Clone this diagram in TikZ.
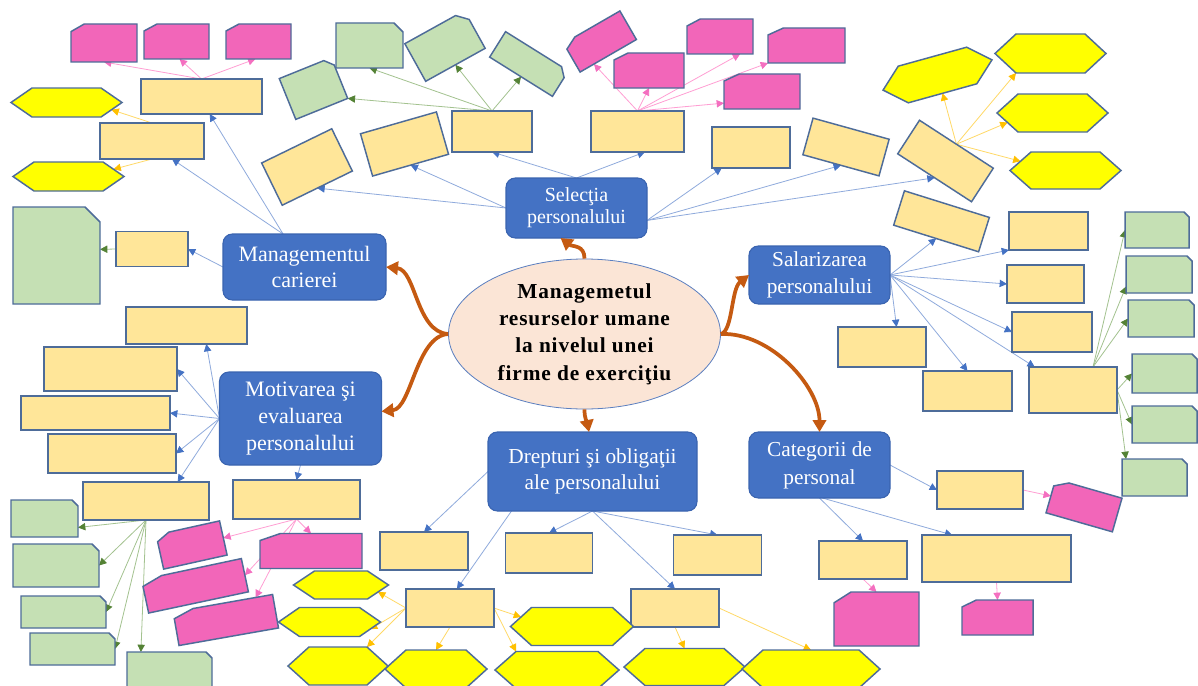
\documentclass[tikz,border=0pt]{standalone}
\usepackage{fontspec}
\setmainfont{Liberation Serif}
\usetikzlibrary{arrows.meta,backgrounds,shapes.geometric}
\definecolor{tanc}{HTML}{FFE699}
\definecolor{bord}{HTML}{4E6C99}
\definecolor{pinkc}{HTML}{F266B9}
\definecolor{greenc}{HTML}{C5E0B4}
\definecolor{hexc}{HTML}{FFFF00}
\definecolor{boxc}{HTML}{4472C4}
\definecolor{boxb}{HTML}{3A64B0}
\definecolor{ellc}{HTML}{FBE5D6}
\definecolor{ellb}{HTML}{5B7FC0}
\definecolor{orc}{HTML}{C55A11}
\definecolor{bl}{HTML}{8FAADC}
\definecolor{blh}{HTML}{4472C4}
\definecolor{pl}{HTML}{FF9ED3}
\definecolor{plh}{HTML}{F46FC0}
\definecolor{gl}{HTML}{A3C28F}
\definecolor{glh}{HTML}{548235}
\definecolor{yl}{HTML}{FFD966}
\definecolor{ylh}{HTML}{FFC000}
\tikzset{
 shp/.style={draw=bord, line width=1.1pt, line join=miter},
 tanst/.style={shp, fill=tanc, inner sep=0pt, outer sep=0pt},
 anc/.style={inner sep=0pt, outer sep=0pt},
 pinkst/.style={shp, fill=pinkc},
 greenst/.style={shp, fill=greenc},
 hexst/.style={shp, fill=hexc},
 bluebox/.style={fill=boxc, draw=boxb, line width=0.8pt, rounded corners=7pt, text=white, align=center, inner sep=0pt, outer sep=0pt},
 cb/.style={draw=bl, line width=0.6pt, -{Triangle[length=5.5pt,width=5.5pt,color=blh]}},
 cp/.style={draw=pl, line width=0.6pt, -{Triangle[length=5.5pt,width=5.5pt,color=plh]}},
 cg/.style={draw=gl, line width=0.6pt, -{Triangle[length=5.5pt,width=5.5pt,color=glh]}},
 cy/.style={draw=yl, line width=0.6pt, -{Triangle[length=5.5pt,width=5.5pt,color=ylh]}},
 orar/.style={draw=orc, line width=2.8pt, -{Triangle[length=9pt,width=10pt,color=orc]}}
}
\newcommand\tanb[6]{\node[tanst, minimum width=#4*0.75pt, minimum height=#5*0.75pt, rotate=#6] (#1) at (#2,#3) {};}
\newcommand\pinkb[6]{%
 \begin{scope}[shift={(#2,#3)},rotate=#6]
 \draw[pinkst] ({-0.3*#4},{-#5/2}) -- ({#4/2},{-#5/2}) -- ({#4/2},{#5/2}) -- ({-#4/2},{#5/2}) -- ({-#4/2},{-0.3*#5}) -- cycle;
 \end{scope}
 \node[anc, minimum width=#4*0.75pt, minimum height=#5*0.75pt, rotate=#6] (#1) at (#2,#3) {};}
\newcommand\greenb[7]{%
 \begin{scope}[shift={(#2,#3)},rotate=#6]
 \draw[greenst] ({-#4/2},{-#5/2}) -- ({#4/2-#7},{-#5/2}) -- ({#4/2},{-#5/2+#7}) -- ({#4/2},{#5/2}) -- ({-#4/2},{#5/2}) -- cycle;
 \end{scope}
 \node[anc, minimum width=#4*0.75pt, minimum height=#5*0.75pt, rotate=#6] (#1) at (#2,#3) {};}
\newcommand\hexb[6]{%
 \begin{scope}[shift={(#2,#3)},rotate=#6]
 \draw[hexst] ({-#4/2},0) -- ({-#4/2+21},{-#5/2}) -- ({#4/2-21},{-#5/2}) -- ({#4/2},0) -- ({#4/2-21},{#5/2}) -- ({-#4/2+21},{#5/2}) -- cycle;
 \coordinate (#1-n) at (0,{-#5/2});
 \coordinate (#1-s) at (0,{#5/2});
 \coordinate (#1-e) at ({#4/2},0);
 \coordinate (#1-w) at ({-#4/2},0);
 \coordinate (#1-ne) at ({#4/2-21},{-#5/2});
 \coordinate (#1-nw) at ({-#4/2+21},{-#5/2});
 \coordinate (#1-se) at ({#4/2-21},{#5/2});
 \coordinate (#1-sw) at ({-#4/2+21},{#5/2});
 \coordinate (#1-ene) at ({#4/2-10.5},{-#5/4});
 \coordinate (#1-ese) at ({#4/2-10.5},{#5/4});
 \coordinate (#1-wnw) at ({-#4/2+10.5},{-#5/4});
 \coordinate (#1-wsw) at ({-#4/2+10.5},{#5/4});
 \end{scope}}
\begin{document}
\begin{tikzpicture}[x=0.75pt,y=-0.75pt]
\useasboundingbox (0,0) rectangle (1198,685);
\clip (0,0) rectangle (1198,685);
% tan boxes
\tanb{T1}{201.5}{96.5}{121}{35}{0}
\tanb{T2}{152}{141}{104}{36}{0}
\tanb{T3}{307}{167}{78}{47}{26}
\tanb{T4}{404.5}{144}{79}{44}{16}
\tanb{T5}{152}{249}{72}{35}{0}
\tanb{T6}{492}{131.5}{80}{41}{0}
\tanb{T7}{637.5}{131.5}{93}{41}{0}
\tanb{T8}{751}{147.5}{78}{41}{0}
\tanb{T9}{846}{147}{79}{38}{-15.5}
\tanb{T10}{945.5}{161}{88}{40}{-33}
\tanb{T11}{941.5}{221.3}{89}{36}{-17.4}
\tanb{T12}{1048.5}{231}{79}{38}{0}
\tanb{T13}{1045.5}{284}{77}{38}{0}
\tanb{T14}{1052}{332}{80}{40}{0}
\tanb{T15}{882}{347}{88}{40}{0}
\tanb{T16}{967.5}{391}{89}{40}{0}
\tanb{T17}{1073}{390}{88}{46}{0}
\tanb{T18}{980}{490}{86}{38}{0}
\tanb{T19}{863}{560}{88}{38}{0}
\tanb{T20}{996.5}{558.5}{149}{47}{0}
\tanb{T21}{424}{551}{88}{38}{0}
\tanb{T22}{549}{553}{87}{40}{0}
\tanb{T23}{717.5}{555}{88}{40}{0}
\tanb{T24}{450}{608}{88}{38}{0}
\tanb{T25}{675}{608}{88}{38}{0}
\tanb{T26}{186.5}{325.5}{121}{37}{0}
\tanb{T27}{110.5}{369}{133}{44}{0}
\tanb{T28}{95.5}{413}{149}{34}{0}
\tanb{T29}{112}{453.5}{128}{39}{0}
\tanb{T30}{146}{501}{126}{38}{0}
\tanb{T31}{296.5}{499.5}{127}{39}{0}
% pink boxes
\pinkb{P1}{104}{43}{66}{38}{0}
\pinkb{P2}{176.5}{41.5}{65}{35}{0}
\pinkb{P3}{258.5}{41.5}{65}{35}{0}
\pinkb{P4}{600}{41.5}{65}{33}{30}
\pinkb{P5}{649}{70.5}{70}{35}{0}
\pinkb{P6}{720}{36.5}{66}{35}{0}
\pinkb{P7}{806.5}{45.5}{77}{35}{0}
\pinkb{P8}{762}{91.5}{76}{35}{0}
\pinkb{P9}{1084}{505.5}{69}{35}{-16}
\pinkb{P10}{876.5}{619}{85}{54}{0}
\pinkb{P11}{997.5}{617.5}{71}{35}{0}
\pinkb{P12}{191.6}{545}{65}{35}{12.5}
\pinkb{P13}{195}{585.8}{102}{34}{12}
\pinkb{P14}{225.8}{620}{101}{34}{10}
\pinkb{P15}{311}{551}{102}{35}{0}
% green boxes
\greenb{G1}{56.5}{255.5}{87}{97}{0}{15}
\greenb{G2}{313.5}{88.5}{56}{44}{22}{8}
\greenb{G3}{369.5}{45.5}{67}{45}{0}{9}
\greenb{G4}{445}{46}{68}{43}{29}{10}
\greenb{G5}{529}{64}{74}{30}{-32}{8}
\greenb{G6}{1157}{230}{64}{36}{0}{5}
\greenb{G7}{1159}{274.5}{66}{37}{0}{5}
\greenb{G8}{1161}{318.5}{66}{37}{0}{5}
\greenb{G9}{1164.5}{373.5}{65}{39}{0}{5}
\greenb{G10}{1164.5}{424.5}{65}{37}{0}{5}
\greenb{G11}{1154.5}{477.5}{65}{37}{0}{5}
\greenb{G12}{44.5}{518.5}{67}{37}{0}{6}
\greenb{G13}{56}{565.5}{86}{43}{0}{7}
\greenb{G14}{63.5}{612}{85}{32}{0}{6}
\greenb{G15}{72.5}{649}{85}{32}{0}{6}
\greenb{G16}{169.5}{676}{85}{48}{0}{6}
% hexagons
\hexb{H1}{66.5}{102.5}{111}{29}{0}
\hexb{H2}{68.5}{176.5}{111}{29}{0}
\hexb{H3}{937.5}{75}{113}{38}{15.5}
\hexb{H4}{1050.5}{53.5}{111}{39}{0}
\hexb{H5}{1052.5}{113}{111}{38}{0}
\hexb{H6}{1065.5}{170.5}{111}{37}{0}
\hexb{H7}{572}{626.5}{123}{38}{0}
\hexb{H8}{436}{669}{102}{38}{0}
\hexb{H9}{557}{670}{124}{37}{0}
\hexb{H10}{684.5}{667}{121}{37}{0}
\hexb{H11}{811}{669}{138}{38}{0}
\hexb{H12}{341}{585}{95}{28}{0}
\hexb{H13}{329.5}{622}{102}{29}{0}
\hexb{H14}{338}{666}{100}{38}{0}
% main boxes
\node[bluebox, minimum width=163*0.75pt, minimum height=66*0.75pt, font={\fontsize{16.5}{19.5}\selectfont}] (mc) at (304.5,267) {Managementul\\carierei};
\node[bluebox, minimum width=141*0.75pt, minimum height=60*0.75pt, font={\fontsize{15}{16.3}\selectfont}] (sel) at (576.5,208) {Selecţia\\personalului};
\node[bluebox, minimum width=141*0.75pt, minimum height=58*0.75pt, font={\fontsize{16}{20.5}\selectfont}] (sal) at (819.5,275) {Salarizarea\\personalului};
\node[bluebox, minimum width=162*0.75pt, minimum height=93*0.75pt, font={\fontsize{16.5}{20}\selectfont}] (mo) at (300.5,418.5) {Motivarea şi\\evaluarea\\personalului};
\node[bluebox, minimum width=209*0.75pt, minimum height=79*0.75pt, font={\fontsize{16}{19.5}\selectfont}] (dr) at (592.5,471.5) {Drepturi şi obligaţii\\ale personalului};
\node[bluebox, minimum width=141*0.75pt, minimum height=66*0.75pt, font={\fontsize{16}{21}\selectfont}] (cat) at (819.5,465) {Categorii de\\personal};
\node[ellipse, draw=ellb, fill=ellc, line width=0.6pt, minimum width=272*0.75pt, minimum height=150*0.75pt, inner sep=-4pt, align=center, font={\fontsize{16}{20.6}\selectfont\bfseries\addfontfeatures{LetterSpace=4}}] (el) at (584.5,334) {Managemetul\\resurselor umane\\la nivelul unei\\firme de exerciţiu};
% orange arrows
\draw[orar] (el.north) .. controls +(0,-14) and +(12,9) .. (sel.-118);
\draw[orar] (el.west) .. controls +(-32,-2) and +(30,3) .. (mc.east);
\draw[orar] (el.west) .. controls +(-32,2) and +(30,-3) .. (mo.5);
\draw[orar] (el.south) .. controls +(0,10) and +(-2,-10) .. (dr.95);
\draw[orar] (el.east) .. controls +(12,-3) and +(-18,14) .. (sal.west);
\draw[orar] (el.east) .. controls +(50,-2) and +(0,-45) .. (cat.north);
\begin{pgfonlayer}{background}
\fill[white] (0,0) rectangle (1198,685);
% blue connectors
\draw[cb] (mc.123) -- (T1.-65);
\draw[cb] (mc.123) -- (T2.-42);
\draw[cb] (mc.west) -- (T5.east);
\draw[cb] (sel.north) -- (T6.south);
\draw[cb] (sel.north) -- (T7.-70);
\draw[cb] (sel.west) -- (T4.south);
\draw[cb] (sel.west) -- (T3.south);
\draw[cb] (sel.-10) -- (T8.-145);
\draw[cb] (sel.-10) -- (T9.south);
\draw[cb] (sel.-10) -- (T10.south);
\draw[cb] (sal.east) -- (T11.south);
\draw[cb] (sal.east) -- (T12.south west);
\draw[cb] (sal.east) -- (T13.west);
\draw[cb] (sal.east) -- (T14.west);
\draw[cb] (sal.east) -- (T15.54);
\draw[cb] (sal.east) -- (T16.north);
\draw[cb] (sal.east) -- (T17.149);
\draw[cb] (cat.east) -- (T18.west);
\draw[cb] (cat.south) -- (T19.north);
\draw[cb] (cat.-85) -- (T20.152);
\draw[cb] (dr.west) -- (T21.north);
\draw[cb] (dr.-154) -- (T24.70);
\draw[cb] (dr.south) -- (T22.north);
\draw[cb] (dr.south) -- (T25.north);
\draw[cb] (dr.south) -- (T23.north);
\draw[cb] (mo.west) -- (T26.-43);
\draw[cb] (mo.west) -- (T27.east);
\draw[cb] (mo.west) -- (T28.east);
\draw[cb] (mo.west) -- (T29.east);
\draw[cb] (mo.west) -- (T30.31);
\draw[cb] (mo.south) -- (T31.north);
% pink connectors
\draw[cp] (T1.north) -- (P1.south);
\draw[cp] (T1.north) -- (P2.-80);
\draw[cp] (T1.north) -- (P3.-100);
\draw[cp] (T7.north) -- (P4.-135);
\draw[cp] (T7.north) -- (P5.south);
\draw[cp] (T7.north) -- (P6.-41);
\draw[cp] (T7.north) -- (P7.south west);
\draw[cp] (T7.north) -- (P8.-163);
\draw[cp] (T31.south) -- (P12.east);
\draw[cp] (T31.south) -- (P15.north);
\draw[cp] (T31.south) -- (P13.east);
\draw[cp] (T31.south) -- (P14.27);
\draw[cp] (T18.east) -- (P9.west);
\draw[cp] (T19.south) -- (P10.north);
\draw[cp] (T20.south) -- (P11.north);
% green connectors
\draw[cg] (T5.west) -- (G1.8);
\draw[cg] (T6.north) -- (G3.south);
\draw[cg] (T6.north) -- (G2.south east);
\draw[cg] (T6.north) -- (G4.south);
\draw[cg] (T6.north) -- (G5.south);
\draw[cg] (T17.49) -- (G6.west);
\draw[cg] (T17.49) -- (G7.-160);
\draw[cg] (T17.49) -- (G8.west);
\draw[cg] (T17.east) -- (G9.west);
\draw[cg] (T17.east) -- (G10.west);
\draw[cg] (T17.east) -- (G11.147);
\draw[cg] (T30.south) -- (G12.-15);
\draw[cg] (T30.south) -- (G13.east);
\draw[cg] (T30.south) -- (G14.east);
\draw[cg] (T30.south) -- (G15.east);
\draw[cg] (T30.south) -- (G16.140);
% yellow connectors
\draw[cy] (T2.north) -- (H1-ese);
\draw[cy] (T2.south) -- (H2-ene);
\draw[cy] (T10.north) -- (H3-s);
\draw[cy] (T10.north) -- (H4-sw);
\draw[cy] (T10.north) -- (H5-wsw);
\draw[cy] (T10.north) -- (H6-wnw);
\draw[cy] (T24.west) -- (H12-ese);
\draw[cy] (T24.west) -- (H13-ese);
\draw[cy] (T24.west) -- (H14-ne);
\draw[cy] (T24.south) -- (H8-n);
\draw[cy] (T24.east) -- (H7-wnw);
\draw[cy] (T24.east) -- (H9-nw);
\draw[cy] (T25.south) -- (H10-n);
\draw[cy] (T25.east) -- (H11-n);
\end{pgfonlayer}
\end{tikzpicture}
\end{document}
